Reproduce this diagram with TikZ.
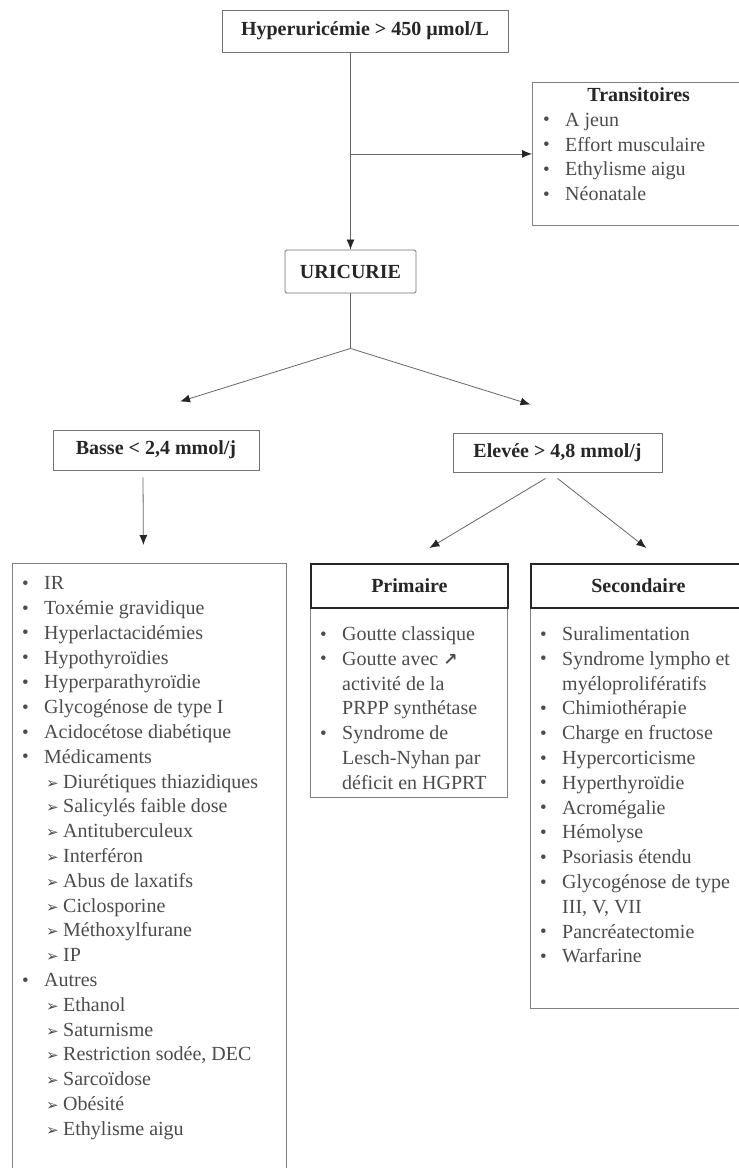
\documentclass[tikz,border=0pt]{standalone}
\usepackage{fontspec}
\setmainfont{Liberation Serif}
\newfontfamily\dejavu{DejaVu Sans}
\usetikzlibrary{arrows.meta}

\newcommand{\puce}{\makebox[22pt][l]{\hspace{0pt}{\fontsize{19}{19}\selectfont\raisebox{0.5pt}{•}}}}
\newcommand{\fleche}{\hspace*{24pt}\makebox[17pt][l]{\dejavu\fontsize{15}{15}\selectfont ➢}}
\newcommand{\suite}{\hspace*{22pt}}

\begin{document}
\begin{tikzpicture}[x=1pt,y=1pt,
	titre/.style={draw=black!55,line width=0.9pt,inner sep=0pt,
		font=\fontsize{20}{24}\selectfont\bfseries,text=black!85},
	cadre/.style={draw=black!50,line width=0.8pt,anchor=north west,inner sep=0pt},
	entete/.style={draw=black!85,line width=1.8pt,anchor=north west,inner sep=0pt,
		minimum height=44pt,font=\fontsize{20}{24}\selectfont\bfseries,text=black!85},
	texte/.style={anchor=north west,inner sep=0pt,align=left,
		font=\fontsize{20}{24.8}\selectfont,text=black!70},
	lien/.style={draw=black!60,line width=0.8pt,-{Latex[length=10pt,width=8pt,color=black!85]}}]
\path[use as bounding box,fill=white] (0,0) rectangle (739,-1168);
% titres
\node[titre,minimum width=286pt,minimum height=42pt] (hyper) at (365,-31) {Hyperuricémie > 450 µmol/L};
\node[titre,minimum width=131pt,minimum height=43pt,rounded corners=1.5pt] (uric) at (350.5,-271.5) {URICURIE};
\node[titre,minimum width=206pt,minimum height=40pt] (basse) at (156,-450) {Basse < 2,4 mmol/j};
\node[titre,minimum width=209pt,minimum height=39pt] (elev) at (557.5,-452.5) {Elevée > 4,8 mmol/j};
% transitoires
\node[cadre,minimum width=215pt,minimum height=143pt] (trans) at (532,-82) {};
\node[texte] at ([xshift=11pt,yshift=-2pt]trans.north west) {\strut\makebox[191pt]{\bfseries\color{black!85}Transitoires}\\
	\puce A jeun\\
	\puce Effort musculaire\\
	\puce Ethylisme aigu\\
	\puce Néonatale};
% basse
\node[cadre,minimum width=274pt,minimum height=620pt] (gauche) at (12,-563) {};
\node[texte] at ([xshift=10pt,yshift=-9.2pt]gauche.north west) {\strut\puce IR\\
	\puce Toxémie gravidique\\
	\puce Hyperlactacidémies\\
	\puce Hypothyroïdies\\
	\puce Hyperparathyroïdie\\
	\puce Glycogénose de type I\\
	\puce Acidocétose diabétique\\
	\puce Médicaments\\
	\fleche Diurétiques thiazidiques\\
	\fleche Salicylés faible dose\\
	\fleche Antituberculeux\\
	\fleche Interféron\\
	\fleche Abus de laxatifs\\
	\fleche Ciclosporine\\
	\fleche Méthoxylfurane\\
	\fleche IP\\
	\puce Autres\\
	\fleche Ethanol\\
	\fleche Saturnisme\\
	\fleche Restriction sodée, DEC\\
	\fleche Sarcoïdose\\
	\fleche Obésité\\
	\fleche Ethylisme aigu};
% primaire
\node[cadre,minimum width=197pt,minimum height=190pt] (primliste) at (310,-607) {};
\node[entete,minimum width=197pt] (prim) at (310,-563) {Primaire};
\node[texte] at ([xshift=10pt,yshift=-16pt]primliste.north west) {\strut\puce Goutte classique\\
	\puce Goutte avec {\dejavu\bfseries\fontsize{17}{17}\selectfont ↗}\\
	\suite activité de la\\
	\suite PRPP synthétase\\
	\puce Syndrome de\\
	\suite Lesch-Nyhan par\\
	\suite déficit en HGPRT};
% secondaire
\node[cadre,minimum width=215pt,minimum height=401pt] (secliste) at (530,-607) {};
\node[entete,minimum width=215pt] (sec) at (530,-563) {Secondaire};
\node[texte] at ([xshift=10pt,yshift=-16pt]secliste.north west) {\strut\puce Suralimentation\\
	\puce Syndrome lympho et\\
	\suite myéloprolifératifs\\
	\puce Chimiothérapie\\
	\puce Charge en fructose\\
	\puce Hypercorticisme\\
	\puce Hyperthyroïdie\\
	\puce Acromégalie\\
	\puce Hémolyse\\
	\puce Psoriasis étendu\\
	\puce Glycogénose de type\\
	\suite III, V, VII\\
	\puce Pancréatectomie\\
	\puce Warfarine};
% liens
\draw[lien] (uric.north |- hyper.south) -- (uric.north);
\coordinate (embr) at (uric.north |- trans.west);
\draw[lien] (embr) -- (trans.west);
\coordinate (fourche) at ([yshift=-55pt]uric.south);
\draw[draw=black!60,line width=0.8pt] (uric.south) -- (fourche);
\draw[lien] (fourche) -- ([xshift=24pt,yshift=28pt]basse.north);
\draw[lien] (fourche) -- ([xshift=-27pt,yshift=28pt]elev.north);
\draw[lien] ([xshift=-13pt,yshift=-7pt]basse.south) -- ([xshift=-6pt,yshift=18pt]gauche.north);
\draw[lien] ([xshift=-12pt,yshift=-6pt]elev.south) -- ([xshift=20pt,yshift=15pt]prim.north);
\draw[lien] ([yshift=-6pt]elev.south) -- ([xshift=8pt,yshift=15pt]sec.north);
\end{tikzpicture}
\end{document}
